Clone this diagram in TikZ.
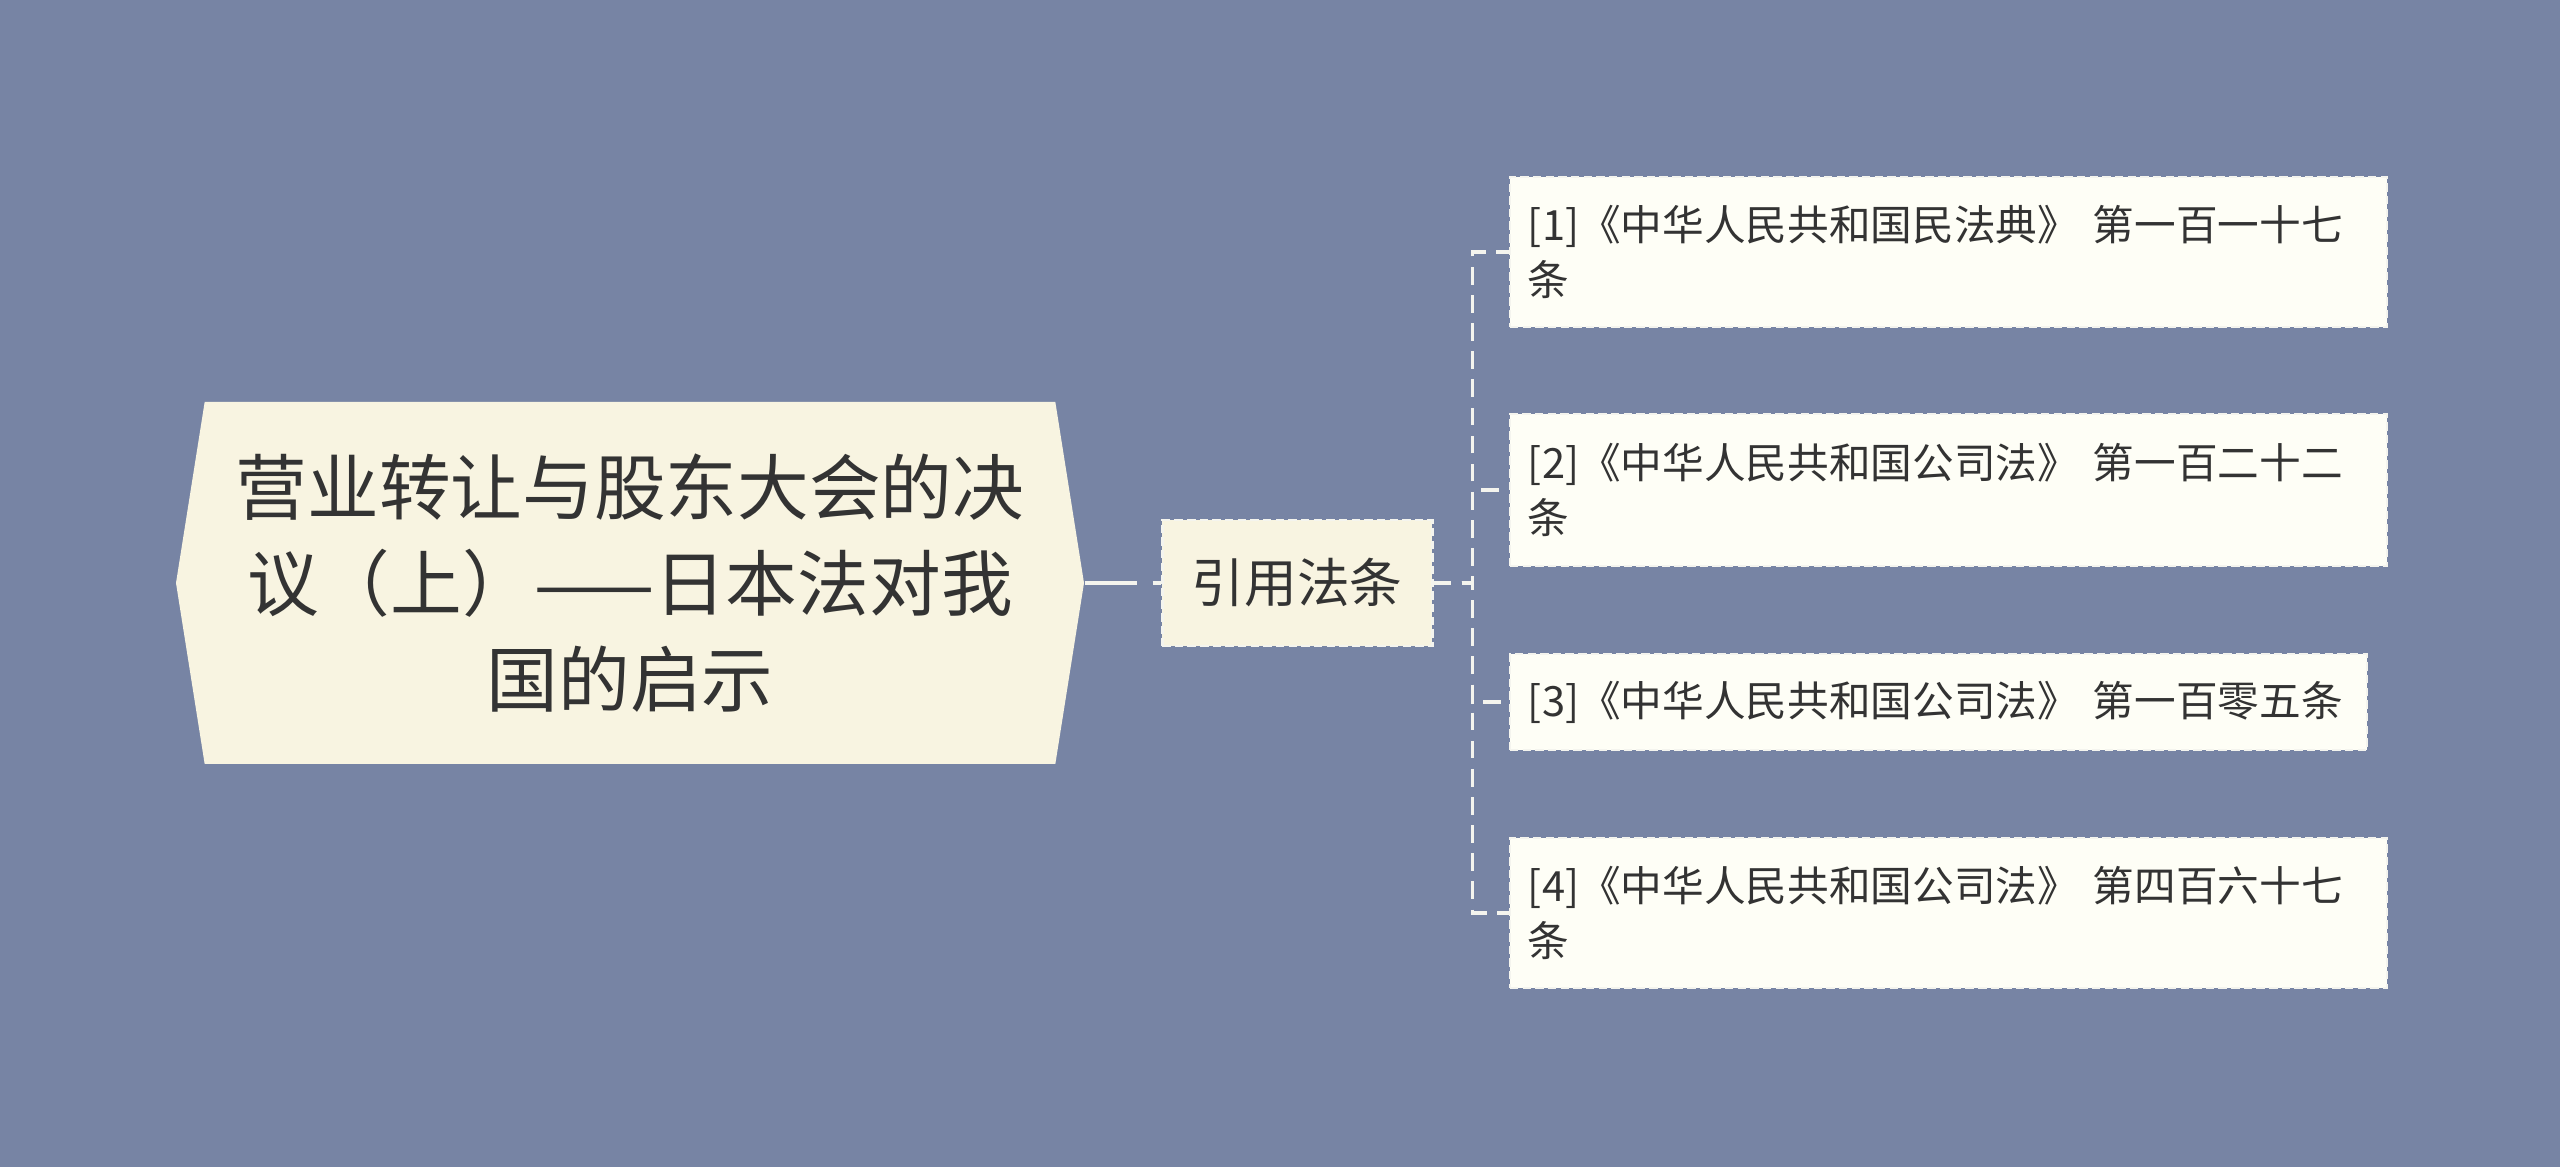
\documentclass[tikz,border=0pt]{standalone}
\usepackage{fontspec}
\setmainfont{Noto Sans CJK SC}
\usetikzlibrary{positioning,shapes.symbols}
\definecolor{bgblue}{HTML}{7784A4}
\definecolor{cream}{HTML}{F8F4E1}
\definecolor{paper}{HTML}{FEFEF6}
\definecolor{ink}{HTML}{333333}
\definecolor{wire}{HTML}{F4F4EE}

\begin{document}
\begin{tikzpicture}[node distance=0.75cm,
	topicbox/.style={shape=signal,signal to=west and east,signal pointer angle=162,fill=cream,text=ink,align=center,minimum width=9.08cm,minimum height=3.62cm,inner sep=0pt,font=\fontsize{20.4pt}{27.3pt}\selectfont},
	citebox/.style={shape=rectangle,fill=cream,draw=wire,line width=0.8pt,dash pattern=on 2.4pt off 1.2pt,text=ink,minimum width=2.7cm,minimum height=1.26cm,font=\fontsize{15pt}{18pt}\selectfont},
	lawbox/.style={shape=rectangle,fill=paper,draw=wire,line width=0.8pt,dash pattern=on 2.4pt off 1.2pt,text=ink,align=left,inner xsep=0.18cm,inner ysep=0pt,text width=8.41cm,font=\fontsize{11.85pt}{15.4pt}\selectfont},
	trunk/.style={draw=wire,line width=1.1pt,dash pattern=on 15pt off 4.3pt},
	link/.style={draw=wire,line width=0.9pt,dash pattern=on 5pt off 3pt}]
					\fill[bgblue] (0,0) rectangle (25.6,-11.67);
					\useasboundingbox (0,0) rectangle (25.6,-11.67);

					\node (topic) [topicbox] at (6.30,-5.83) {
						营业转让与股东大会的决\\
						议（上）——日本法对我\\
						国的启示
					};
					\node (cite) [citebox] [right=0.76cm of topic] {引用法条};
					\node (first) [lawbox,minimum height=1.5cm] [right=of cite,yshift=3.31cm] {
						[1]《中华人民共和国民法典》 第一百一十七\\
						条
					};
					\node (second) [lawbox,minimum height=1.52cm] [right=of cite,yshift=0.93cm] {
						[2]《中华人民共和国公司法》 第一百二十二\\
						条
					};
					\node (third) [lawbox,minimum height=0.96cm,text width=8.21cm] [right=of cite,yshift=-1.19cm] {
						[3]《中华人民共和国公司法》 第一百零五条
					};
					\node (fourth) [lawbox,minimum height=1.5cm] [right=of cite,yshift=-3.30cm] {
						[4]《中华人民共和国公司法》 第四百六十七\\
						条
					};
					\coordinate (bus) at ([xshift=0.39cm]cite.east);

					\path[trunk] (topic.east) -- (cite.west);
					\path[link] (cite.east) -- (bus) |- (first.west);
					\path[link] (cite.east) -- (bus) |- (second.west);
					\path[link] (cite.east) -- (bus) |- (third.west);
					\path[link] (cite.east) -- (bus) |- (fourth.west);
				\end{tikzpicture}
\end{document}
